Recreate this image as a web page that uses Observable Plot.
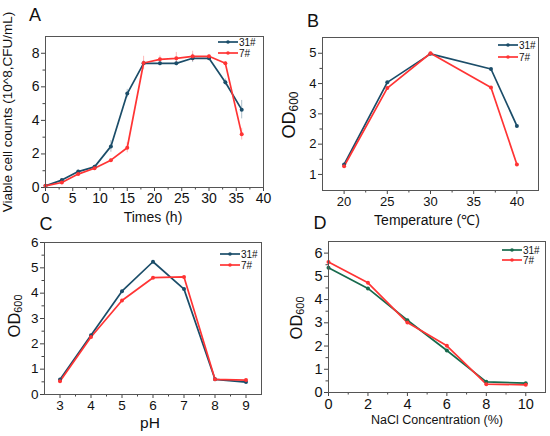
<!DOCTYPE html>
<html><head><meta charset="utf-8">
<script src="https://cdn.jsdelivr.net/npm/d3@7"></script>
<script src="https://cdn.jsdelivr.net/npm/@observablehq/plot@0.6"></script>
<style>
body{margin:0;background:#fff;font-family:"Liberation Sans",Arial,sans-serif;}
#wrap{position:relative;width:550px;height:436px;overflow:hidden;background:#fff;}
.panel{position:absolute;}
.lbl{position:absolute;white-space:nowrap;color:#111;line-height:1;}
.c{transform:translate(-50%,-50%);}
.r{transform:translate(-50%,-50%) rotate(-90deg);}
.leg{position:absolute;}
</style></head><body><div id="wrap"></div>
<script>
// ---- data ----
const strains = ["31#", "7#"];
// A: growth curve
const timeH = [0, 3, 6, 9, 12, 15, 18, 21, 24, 27, 30, 33, 36];
const growth31 = [0.1, 0.44, 0.95, 1.23, 2.45, 5.6, 7.4, 7.4, 7.4, 7.7, 7.7, 6.27, 4.64];
const growth7 = [0.1, 0.3, 0.8, 1.15, 1.63, 2.37, 7.42, 7.64, 7.7, 7.82, 7.82, 7.4, 3.18];
const growthErr31 = [0.03, 0.06, 0.08, 0.1, 0.35, 0.25, 0.15, 0.15, 0.15, 0.25, 0.1, 0.2, 0.55];
const growthErr7 = [0.03, 0.05, 0.06, 0.08, 0.1, 0.3, 0.4, 0.2, 0.35, 0.3, 0.1, 0.1, 0.35];
// B: temperature
const tempC = [20, 25, 30, 37, 40];
const temp31 = [1.33, 4.04, 4.98, 4.48, 2.6];
const temp7 = [1.27, 3.85, 5.0, 3.87, 1.33];
// C: pH
const phVals = [3, 4, 5, 6, 7, 8, 9];
const ph31 = [0.59, 2.34, 4.08, 5.24, 4.16, 0.6, 0.49];
const ph7 = [0.52, 2.27, 3.71, 4.61, 4.64, 0.6, 0.57];
// D: NaCl
const naclPct = [0, 2, 4, 6, 8, 10];
const nacl31 = [5.37, 4.48, 3.11, 1.81, 0.46, 0.4];
const nacl7 = [5.62, 4.72, 3.01, 2.01, 0.36, 0.33];
// tick labels
const ticksAx = [0, 5, 10, 15, 20, 25, 30, 35, 40];
const ticksAy = [0, 2, 4, 6, 8];
const ticksBx = [20, 25, 30, 35, 40];
const ticksBy = [1, 2, 3, 4, 5];
const ticksCx = [3, 4, 5, 6, 7, 8, 9];
const ticksCy = [0, 1, 2, 3, 4, 5, 6];
const ticksDx = [0, 2, 4, 6, 8, 10];
const ticksDy = [0, 1, 2, 3, 4, 5, 6];

const RED = "#ff3434";
const BLUE = "#1b4d69";
const GREEN = "#176a4c";

const wrap = document.getElementById("wrap");

function table(xs, a, b, ea, eb) {
  const rows = [];
  xs.forEach((x, i) => rows.push({x, y: a[i], e: ea ? ea[i] : 0, strain: strains[0]}));
  xs.forEach((x, i) => rows.push({x, y: b[i], e: eb ? eb[i] : 0, strain: strains[1]}));
  return rows;
}
function minorOf(t) {
  const out = [];
  for (let i = 0; i < t.length - 1; i++) out.push((t[i] + t[i + 1]) / 2);
  return out;
}

function panel(cfg) {
  const rows = table(cfg.xs, cfg.a, cfg.b, cfg.ea, cfg.eb);
  const marks = [
    Plot.axisX(cfg.xt, {tickSize: 4, tickPadding: 2, stroke: "#444", fill: "#111", label: null}),
    Plot.axisX(minorOf(cfg.xt), {tickSize: 2.5, tickFormat: () => "", stroke: "#444", label: null}),
    Plot.axisY(cfg.yt, {tickSize: 4, tickPadding: 2, stroke: "#444", fill: "#111", label: null}),
    Plot.axisY(minorOf(cfg.yt), {tickSize: 2.5, tickFormat: () => "", stroke: "#444", label: null}),
  ];
  if (cfg.ea) {
    marks.push(Plot.ruleX(rows, {x: "x", y1: d => d.y - d.e, y2: d => d.y + d.e, stroke: "strain", strokeOpacity: 0.35, strokeWidth: 1}));
  }
  marks.push(
    Plot.line(rows, {x: "x", y: "y", z: "strain", stroke: "strain", strokeWidth: 1.7}),
    Plot.dot(rows, {x: "x", y: "y", fill: "strain", r: 2}),
    Plot.frame({stroke: "#555", strokeWidth: 1})
  );
  const svg = Plot.plot({
    width: 275, height: 218,
    marginLeft: cfg.m[0], marginRight: cfg.m[1], marginTop: cfg.m[2], marginBottom: cfg.m[3],
    x: {domain: cfg.xd, label: null},
    y: {domain: cfg.yd, label: null},
    color: {domain: strains, range: [cfg.c31, RED]},
    style: {fontSize: cfg.fs + "px", fontFamily: "'Liberation Sans', Arial, sans-serif", background: "transparent", color: "#111"},
    marks
  });
  svg.classList.add("panel");
  svg.style.left = cfg.pos[0] + "px";
  svg.style.top = cfg.pos[1] + "px";
  wrap.appendChild(svg);

  // panel letter
  addLabel(cfg.letter[0], cfg.letter[1], cfg.letter[2], 18, false);
  // x title
  addLabel(cfg.xl[0], cfg.xl[1], cfg.xl[2], cfg.xl[3], false);
  // y title
  addLabel(cfg.yl[0], cfg.yl[1], cfg.yl[2], cfg.yl[3], true);
  // legend
  strains.forEach((s, i) => {
    const color = i === 0 ? cfg.c31 : RED;
    const [lx, ly] = cfg.leg;
    const y = ly + i * cfg.legGap;
    const d = document.createElement("div");
    d.className = "leg";
    d.style.left = lx + "px";
    d.style.top = (y - 6) + "px";
    d.innerHTML = `<svg width="40" height="12" style="display:block;overflow:visible">
      <line x1="0" x2="20" y1="6" y2="6" stroke="${color}" stroke-width="1.7"/>
      <circle cx="10" cy="6" r="1.8" fill="${color}"/>
      <text x="21" y="9.5" font-size="10" font-family="'Liberation Sans', Arial, sans-serif" fill="#111">${s}</text></svg>`;
    wrap.appendChild(d);
  });
}

function addLabel(html, x, y, fs, rot) {
  const d = document.createElement("div");
  d.className = "lbl " + (rot ? "r" : "c");
  d.style.left = x + "px";
  d.style.top = y + "px";
  d.style.fontSize = fs + "px";
  d.innerHTML = html;
  wrap.appendChild(d);
}

const OD = 'OD<sub style="font-size:0.66em;vertical-align:-0.25em">600</sub>';

panel({
  pos: [0, 0], m: [45, 12, 36, 31], fs: 14,
  xs: timeH, a: growth31, b: growth7, ea: growthErr31, eb: growthErr7,
  xd: [0, 40], yd: [0, 9], xt: ticksAx, yt: ticksAy, c31: BLUE,
  letter: ["A", 35, 15], xl: ["Times (h)", 153, 217, 14],
  yl: ["Viable cell counts (10^8,CFU/mL)", 8, 112, 13.5],
  leg: [218, 42], legGap: 11
});
panel({
  pos: [275, 0], m: [47, 12, 37, 28], fs: 13,
  xs: tempC, a: temp31, b: temp7,
  xd: [17.5, 42.5], yd: [0.47, 5.52], xt: ticksBx, yt: ticksBy, c31: BLUE,
  letter: ["B", 313, 21], xl: ["Temperature (℃)", 427, 220, 14],
  yl: [OD, 290, 115, 18],
  leg: [498, 45], legGap: 12
});
panel({
  pos: [0, 218], m: [44, 14, 24, 42], fs: 13.5,
  xs: phVals, a: ph31, b: ph7,
  xd: [2.5, 9.5], yd: [0, 6], xt: ticksCx, yt: ticksCy, c31: BLUE,
  letter: ["C", 46, 224], xl: ["pH", 150, 423, 15.5],
  yl: [OD, 15, 316, 16.5],
  leg: [220, 254], legGap: 11
});
panel({
  pos: [275, 218], m: [53, 5, 23, 44], fs: 14.5,
  xs: naclPct, a: nacl31, b: nacl7,
  xd: [0, 11], yd: [0, 6.5], xt: ticksDx, yt: ticksDy, c31: GREEN,
  letter: ["D", 320, 223], xl: ["NaCl Concentration (%)", 437, 420, 12.5],
  yl: [OD, 297, 318, 16.5],
  leg: [502, 249.5], legGap: 10.5
});
</script></body></html>
